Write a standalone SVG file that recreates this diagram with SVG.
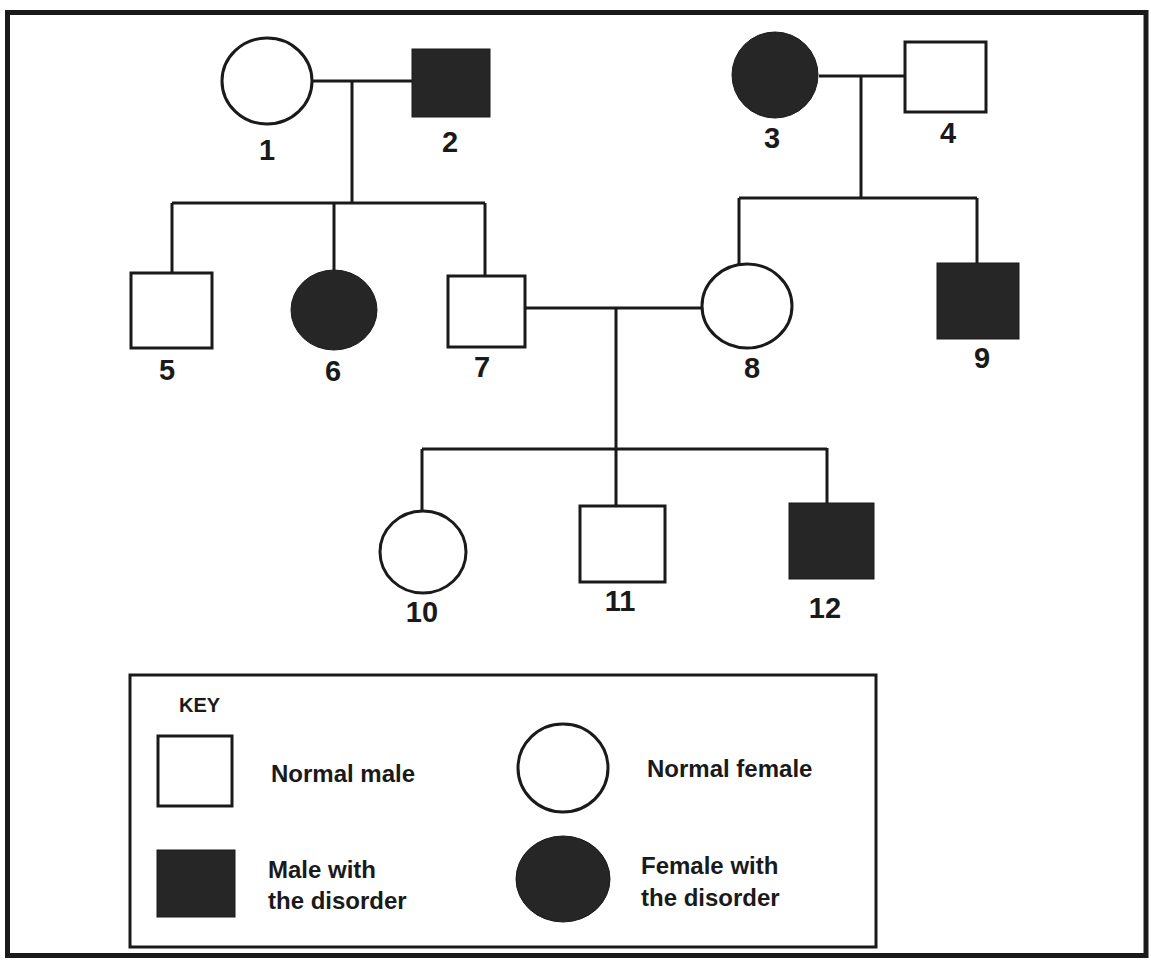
<svg xmlns="http://www.w3.org/2000/svg" width="1151" height="960" viewBox="0 0 1151 960">
<style>
.ln{stroke:#1a1a1a;stroke-width:3;fill:none}
.open{fill:#fff;stroke:#1a1a1a;stroke-width:3}
.aff{fill:#262626;stroke:#1a1a1a;stroke-width:1}
.num{font-family:"Liberation Sans",Arial,sans-serif;font-weight:bold;font-size:29px;fill:#1a1a1a;text-anchor:middle}
.key{font-family:"Liberation Sans",Arial,sans-serif;font-weight:bold;font-size:24px;fill:#1a1a1a}
</style>
<rect x="0" y="0" width="1151" height="960" fill="#fff"/>
<rect x="7.5" y="12.5" width="1138.5" height="943" fill="none" stroke="#1a1a1a" stroke-width="5"/>
<g id="connectors">
<path class="ln" d="M312 81H412M352 81V203M172 203H485M172 203V273M334 203V270M485 203V276"/>
<path class="ln" d="M819 76H905M861 76V198M739 198H977M739 198V264M977 198V263"/>
<path class="ln" d="M525 308H702M616 308V448M422 449H827M422 449V512M616 448V506M827 448V503"/>
</g>
<g id="n1"><ellipse class="open" cx="267" cy="81" rx="45" ry="43"/><text class="num" x="267" y="160">1</text></g>
<g id="n2"><rect class="aff" x="412" y="49" width="78" height="68"/><text class="num" x="450" y="152">2</text></g>
<g id="n3"><ellipse class="aff" cx="775" cy="75" rx="43" ry="43"/><text class="num" x="772" y="148">3</text></g>
<g id="n4"><rect class="open" x="905" y="42" width="81" height="70"/><text class="num" x="948" y="143">4</text></g>
<g id="n5"><rect class="open" x="131" y="273" width="81" height="75"/><text class="num" x="167" y="380">5</text></g>
<g id="n6"><ellipse class="aff" cx="334" cy="310" rx="43" ry="40"/><text class="num" x="333" y="381">6</text></g>
<g id="n7"><rect class="open" x="448" y="276" width="77" height="71"/><text class="num" x="482" y="377">7</text></g>
<g id="n8"><ellipse class="open" cx="747" cy="306" rx="45" ry="42"/><text class="num" x="752" y="378">8</text></g>
<g id="n9"><rect class="aff" x="937" y="263" width="82" height="76"/><text class="num" x="982" y="368">9</text></g>
<g id="n10"><ellipse class="open" cx="423" cy="552" rx="43" ry="41"/><text class="num" x="422" y="622">10</text></g>
<g id="n11"><rect class="open" x="580" y="506" width="85" height="76"/><text class="num" x="620" y="611">11</text></g>
<g id="n12"><rect class="aff" x="789" y="503" width="85" height="76"/><text class="num" x="825" y="618">12</text></g>
<g id="legend">
<rect x="130" y="675" width="746" height="272" fill="none" stroke="#1a1a1a" stroke-width="3"/>
<text class="key" x="179" y="712" style="font-size:20px">KEY</text>
<rect class="open" x="158" y="736" width="74" height="70"/>
<text class="key" x="271" y="782">Normal male</text>
<ellipse class="open" cx="563" cy="768" rx="45" ry="44"/>
<text class="key" x="647" y="777">Normal female</text>
<rect class="aff" x="157" y="850" width="78" height="67"/>
<text class="key" x="268" y="878">Male with</text>
<text class="key" x="268" y="909">the disorder</text>
<ellipse class="aff" cx="563" cy="879" rx="47" ry="43"/>
<text class="key" x="641" y="874">Female with</text>
<text class="key" x="641" y="906">the disorder</text>
</g>
</svg>
